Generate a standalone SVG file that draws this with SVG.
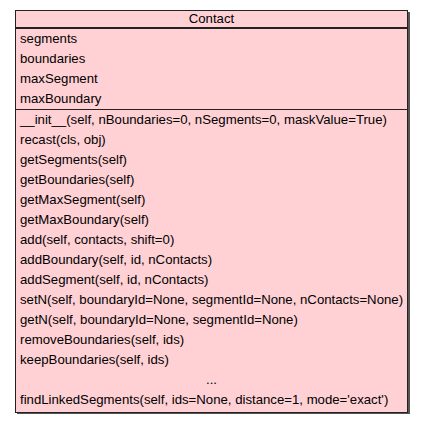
<svg xmlns="http://www.w3.org/2000/svg" width="424" height="424" viewBox="0 0 424 424">
<style>
text{font-family:"Liberation Sans",Arial,sans-serif;font-size:13.2px;fill:#000}
.t{text-anchor:middle}
.sh{fill:#555}
.box{fill:#ffd0d4;stroke:#222;stroke-width:1}
.sep{stroke:#222;stroke-width:1}
.hdr{stroke:#222;stroke-width:2}
</style>
<rect width="424" height="424" fill="#fff"/>
<g id="Contact">
<rect class="sh" x="17" y="12" width="393" height="402"/>
<rect class="box" x="15.5" y="10.5" width="392" height="402"/>
<text class="t" x="211.5" y="23">Contact</text>
<line class="hdr" x1="15.5" y1="28" x2="407.5" y2="28"/>
<text x="20" y="43">segments</text>
<text x="20" y="63">boundaries</text>
<text x="20" y="83">maxSegment</text>
<text x="20" y="103">maxBoundary</text>
<line class="sep" x1="15.5" y1="109.5" x2="407.5" y2="109.5"/>
<text x="20" y="124">__init__(self, nBoundaries=0, nSegments=0, maskValue=True)</text>
<text x="20" y="144">recast(cls, obj)</text>
<text x="20" y="164">getSegments(self)</text>
<text x="20" y="184">getBoundaries(self)</text>
<text x="20" y="204">getMaxSegment(self)</text>
<text x="20" y="224">getMaxBoundary(self)</text>
<text x="20" y="244">add(self, contacts, shift=0)</text>
<text x="20" y="264">addBoundary(self, id, nContacts)</text>
<text x="20" y="284">addSegment(self, id, nContacts)</text>
<text x="20" y="304">setN(self, boundaryId=None, segmentId=None, nContacts=None)</text>
<text x="20" y="324">getN(self, boundaryId=None, segmentId=None)</text>
<text x="20" y="344">removeBoundaries(self, ids)</text>
<text x="20" y="364">keepBoundaries(self, ids)</text>
<text class="t" x="211.5" y="384">...</text>
<text x="20" y="404">findLinkedSegments(self, ids=None, distance=1, mode='exact')</text>
</g>
<g id="connectors"></g>
</svg>
